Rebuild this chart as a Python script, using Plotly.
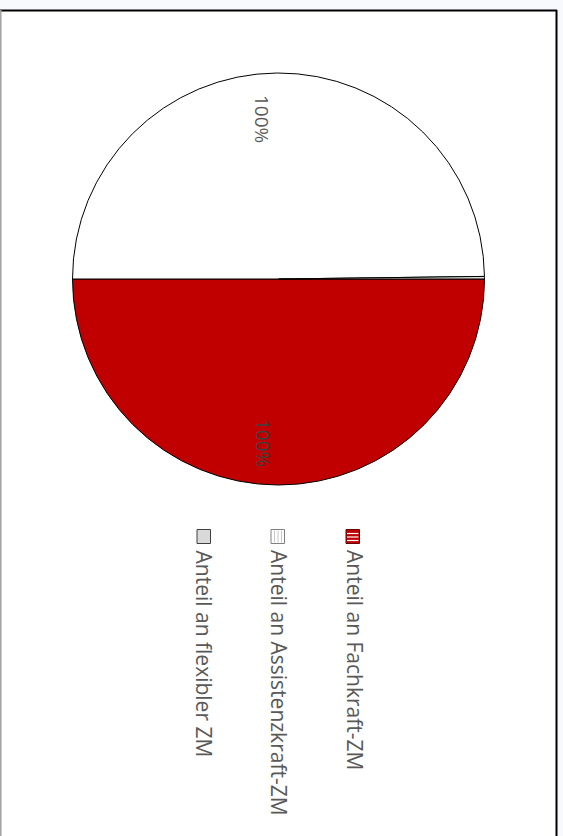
import plotly.graph_objects as go

# ---- data ----
categories = ["Anteil an Fachkraft-ZM", "Anteil an Assistenzkraft-ZM", "Anteil an flexibler ZM"]
values = [50.0, 49.8, 0.2]
slice_labels = ["100%", "100%", ""]
colors = ["#c00000", "#ffffff", "#d9d9d9"]

W, H = 563, 836

def px(x):
    return x / W

def py(y):
    return 1 - y / H

cx, cy, r = 278.5, 279, 206

fig = go.Figure()
fig.add_trace(go.Pie(
    labels=categories,
    values=values,
    sort=False,
    direction="clockwise",
    rotation=90,
    marker=dict(colors=colors, line=dict(color="#000000", width=1)),
    textinfo="none",
    showlegend=False,
    hoverinfo="label+percent",
    domain=dict(x=[px(cx - r), px(cx + r)], y=[py(cy + r), py(cy - r)]),
))

shapes = []
# chart frame
shapes.append(dict(type="rect", xref="paper", yref="paper", x0=px(0), x1=px(557), y0=py(836), y1=py(10),
                   fillcolor="#ffffff", line=dict(width=0), layer="below"))
shapes.append(dict(type="line", xref="paper", yref="paper", x0=px(0), x1=px(557), y0=py(10.5), y1=py(10.5),
                   line=dict(color="#000000", width=2)))
shapes.append(dict(type="line", xref="paper", yref="paper", x0=px(556.5), x1=px(556.5), y0=py(10), y1=py(836),
                   line=dict(color="#000000", width=2)))
shapes.append(dict(type="line", xref="paper", yref="paper", x0=px(0.8), x1=px(0.8), y0=py(10), y1=py(836),
                   line=dict(color="#a0a0a0", width=1.5)))

annotations = []
# data labels (rotated)
label_pos = [(263, 443, "#404040"), (262, 119, "#595959"), None]
for lab, pos in zip(slice_labels, label_pos):
    if pos and lab:
        annotations.append(dict(text=lab, x=px(pos[0]), y=py(pos[1]), xref="paper", yref="paper",
                                showarrow=False, textangle=90, xanchor="center", yanchor="middle",
                                font=dict(family="Open Sans", size=19, color=pos[2])))

# legend (rotated)
leg_x = [355, 279, 204]
sw_x = [346, 271, 197]
for name, lx, sx in zip(categories, leg_x, sw_x):
    annotations.append(dict(text=name, x=px(lx), y=py(548), xref="paper", yref="paper",
                            showarrow=False, textangle=90, xanchor="center", yanchor="top",
                            font=dict(family="Open Sans", size=21, color="#595959")))

# swatch 1: red with horizontal white stripes
sx = sw_x[0]
shapes.append(dict(type="rect", xref="paper", yref="paper", x0=px(sx), x1=px(sx + 13.5), y0=py(543.5), y1=py(529.5),
                   fillcolor=colors[0], line=dict(color="#6b0000", width=1)))
for yy in [533.5, 537, 540.5]:
    shapes.append(dict(type="line", xref="paper", yref="paper", x0=px(sx + 1), x1=px(sx + 12.5), y0=py(yy), y1=py(yy),
                       line=dict(color="#ffffff", width=1.2)))
# swatch 2: white with vertical grey stripes
sx = sw_x[1]
shapes.append(dict(type="rect", xref="paper", yref="paper", x0=px(sx), x1=px(sx + 13.5), y0=py(543.5), y1=py(529.5),
                   fillcolor="#ffffff", line=dict(color="#808080", width=1)))
for xx in [sx + 3.5, sx + 7, sx + 10.5]:
    shapes.append(dict(type="line", xref="paper", yref="paper", x0=px(xx), x1=px(xx), y0=py(530.5), y1=py(542.5),
                       line=dict(color="#c8c8c8", width=1)))
# swatch 3: grey
sx = sw_x[2]
shapes.append(dict(type="rect", xref="paper", yref="paper", x0=px(sx), x1=px(sx + 13.5), y0=py(543.5), y1=py(529.5),
                   fillcolor=colors[2], line=dict(color="#404040", width=1)))

fig.update_layout(
    width=W, height=H,
    margin=dict(l=0, r=0, t=0, b=0),
    paper_bgcolor="#f8f9fd",
    plot_bgcolor="#ffffff",
    shapes=shapes,
    annotations=annotations,
    showlegend=False,
)

fig.write_html("out.html", config={"displayModeBar": False},
               post_script="document.body.style.margin='0';document.body.style.overflow='hidden';")
